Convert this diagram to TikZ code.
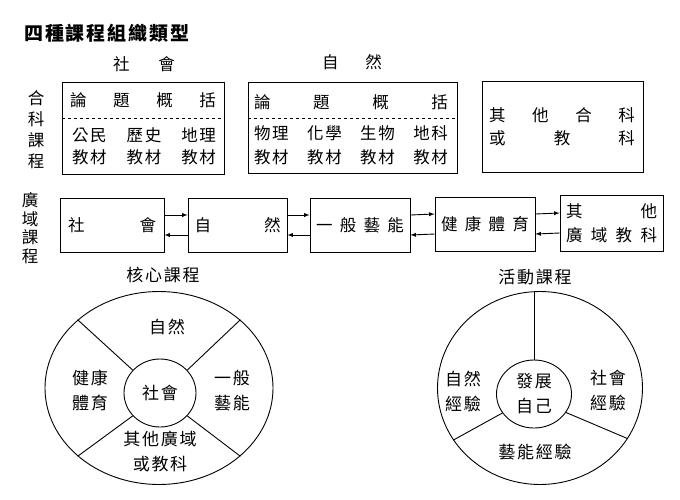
\documentclass[tikz,border=0pt]{standalone}
\usepackage{fontspec}
\usetikzlibrary{shapes.geometric,arrows}
\newfontfamily\zh[LetterSpace=10]{Noto Sans CJK TC}

\begin{document}
\begin{tikzpicture}[x=1pt,y=-1pt,
  box/.style={draw,line width=0.9pt,inner sep=0pt,font=\zh\fontsize{16.5}{21}\selectfont},
  ring/.style={draw,ellipse,line width=0.9pt,inner sep=0pt,align=center,font=\zh\fontsize{17}{25}\selectfont},
  txt/.style={font=\zh\fontsize{16.5}{21}\selectfont,inner sep=0pt,align=center},
  big/.style={font=\zh\fontsize{17}{25}\selectfont,inner sep=0pt,align=center}]
\useasboundingbox (0,0) rectangle (680,499);
\node[font=\zh\bfseries\fontsize{19}{22}\selectfont,anchor=west,inner sep=0pt] (title) at (24,33) {四種課程組織類型};
% 合科課程
\node[txt] (hk) at (36,130) {合\\科\\課\\程};
\node[txt] (soclab) at (144,64) {\makebox[62pt][s]{社\hfill 會}};
\node[txt] (natlab) at (352,62) {\makebox[60pt][s]{自\hfill 然}};
\node[box,minimum width=162pt,minimum height=92pt] (boxa) at (143,128) {};
\node[box,minimum width=209pt,minimum height=91pt] (boxb) at (352.5,127.5) {};
\node[box,minimum width=161pt,minimum height=91pt] (boxc) at (562.5,126.5) {};
\draw[dashed,line width=0.8pt] ([yshift=10pt]boxa.west) -- ([yshift=10pt]boxa.east);
\draw[dashed,line width=0.8pt] ([yshift=9.5pt]boxb.west) -- ([yshift=9.5pt]boxb.east);
\node[txt] (a1) at (143,100) {\makebox[146pt][s]{論\hfill 題\hfill 概\hfill 括}};
\node[txt] (a2) at (144,135) {\makebox[144pt][s]{公民\hfill 歷史\hfill 地理}};
\node[txt] (a3) at (144,157) {\makebox[144pt][s]{教材\hfill 教材\hfill 教材}};
\node[txt] (b1) at (351,102) {\makebox[194pt][s]{論\hfill 題\hfill 概\hfill 括}};
\node[txt] (b2) at (351,133) {\makebox[194pt][s]{物理\hfill 化學\hfill 生物\hfill 地科}};
\node[txt] (b3) at (351,157) {\makebox[194pt][s]{教材\hfill 教材\hfill 教材\hfill 教材}};
\node[txt] (c1) at (562,115) {\makebox[146pt][s]{其\hfill 他\hfill 合\hfill 科}};
\node[txt] (c2) at (562,138) {\makebox[146pt][s]{或\hfill 教\hfill 科}};
% 廣域課程
\node[font=\zh\fontsize{16.5}{18.5}\selectfont,inner sep=0pt,align=center] (gy) at (30,228) {廣\\域\\課\\程};
\node[box,minimum width=104pt,minimum height=54pt] (soc) at (112,225) {\makebox[88pt][s]{社\hfill 會}};
\node[box,minimum width=99pt,minimum height=54pt] (nat) at (237.5,225) {\makebox[86pt][s]{自\hfill 然}};
\node[box,minimum width=100pt,minimum height=54pt] (art) at (360,225) {\makebox[88pt][s]{一\hfill 般\hfill 藝\hfill 能}};
\node[box,minimum width=100pt,minimum height=54pt] (hea) at (485,224) {\makebox[88pt][s]{健\hfill 康\hfill 體\hfill 育}};
\node[box,minimum width=103pt,minimum height=56pt,align=center] (oth) at (611.5,223)
  {\makebox[91pt][s]{其\hfill 他}\\[3pt]\makebox[91pt][s]{廣\hfill 域\hfill 教\hfill 科}};
\foreach \a/\b in {soc/nat,nat/art,art/hea,hea/oth}{
  \draw[->,>=latex,line width=0.9pt] ([yshift=10pt]\a.east) -- ([yshift=10pt]\b.west);
  \draw[<-,>=latex,line width=0.9pt] ([yshift=-10pt]\a.east) -- ([yshift=-10pt]\b.west);
}
% 核心課程
\node[big] (coretit) at (163,275) {核心課程};
\node[ring,minimum width=228pt,minimum height=193pt] (coreout) at (159,388) {};
\node[ring,minimum width=72pt,minimum height=68pt] (corein) at (160,393) {社會};
\foreach \t in {40,140,220,320}
  \draw[line width=0.9pt] (corein.\t) -- (coreout.\t);
\node[big] (cn) at (167,327) {自然};
\node[big] (ch) at (90,391) {健康\\體育};
\node[big] (ca) at (232,391) {一般\\藝能};
\node[big] (co) at (160,452) {其他廣域\\或教科};
% 活動課程
\node[big] (acttit) at (535,277) {活動課程};
\node[ring,minimum width=205pt,minimum height=193pt] (actout) at (540,388) {};
\node[ring,minimum width=75pt,minimum height=68pt] (actin) at (534,394) {發展\\自己};
\draw[line width=0.9pt] (actin.north) -- (actin.north |- actout.north);
\draw[line width=0.9pt] (actin.211) -- (actout.211);
\draw[line width=0.9pt] (actin.330) -- (actout.330);
\node[big] (an) at (463,391) {自然\\經驗};
\node[big] (as) at (608,391) {社會\\經驗};
\node[big] (aa) at (535,452) {藝能經驗};
\end{tikzpicture}
\end{document}
